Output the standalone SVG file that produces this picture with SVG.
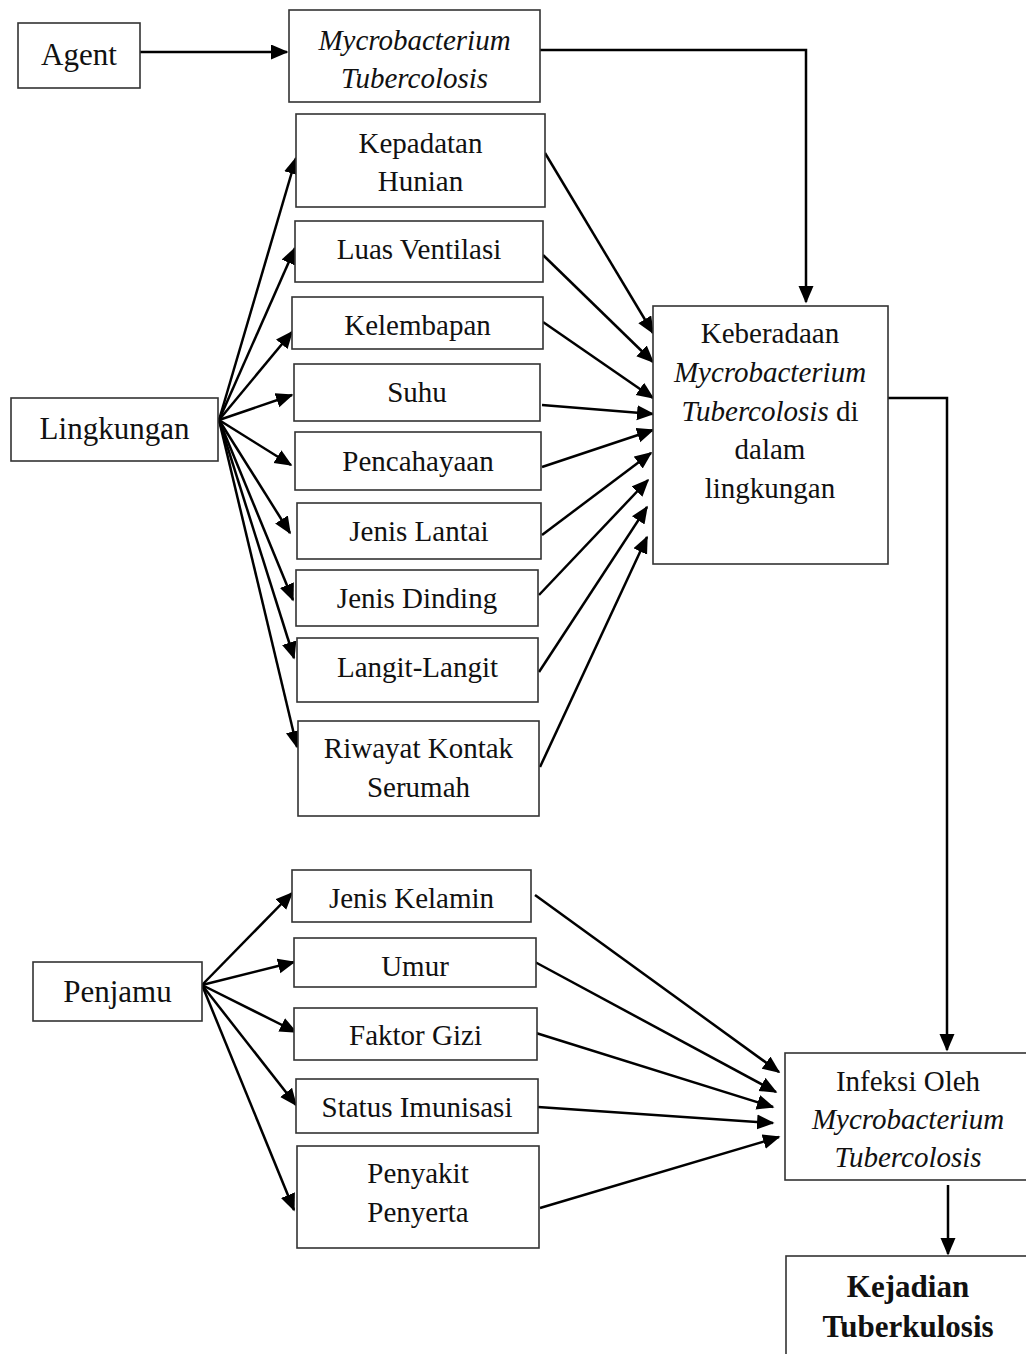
<svg xmlns="http://www.w3.org/2000/svg" width="1026" height="1354" viewBox="0 0 1026 1354">
<style>
.b{fill:#fff;stroke:#333;stroke-width:1.6}
.t{font-family:"Liberation Serif","Times New Roman",serif;font-size:29px;fill:#111;text-anchor:middle}
.L{font-size:31px}
.i{font-style:italic}
.bd{font-weight:bold;font-size:31px}
.c{fill:none;stroke:#000;stroke-width:2.5}
</style>
<defs>
<marker id="ah" markerUnits="userSpaceOnUse" markerWidth="20" markerHeight="16" refX="16" refY="7.5" orient="auto">
<path d="M0,0 L17.5,7.5 L0,15 z" fill="#000"/>
</marker>
</defs>
<rect width="1026" height="1354" fill="#fff"/>
<g id="connectors">
<path class="c" d="M140,52 H287" marker-end="url(#ah)"/>
<path class="c" d="M540,50 H806 V302" marker-end="url(#ah)"/>
<path class="c" d="M888,398 H947 V1050" marker-end="url(#ah)"/>
<path class="c" d="M948,1185 V1254" marker-end="url(#ah)"/>
<path class="c" d="M219,420 L296,158" marker-end="url(#ah)"/>
<path class="c" d="M219,420 L295,248" marker-end="url(#ah)"/>
<path class="c" d="M219,420 L292,332" marker-end="url(#ah)"/>
<path class="c" d="M219,420 L292,395" marker-end="url(#ah)"/>
<path class="c" d="M219,420 L291,465" marker-end="url(#ah)"/>
<path class="c" d="M219,420 L290,533" marker-end="url(#ah)"/>
<path class="c" d="M219,420 L293,600" marker-end="url(#ah)"/>
<path class="c" d="M219,420 L294,658" marker-end="url(#ah)"/>
<path class="c" d="M219,420 L297,747" marker-end="url(#ah)"/>
<path class="c" d="M545,153 L653,333" marker-end="url(#ah)"/>
<path class="c" d="M543,255 L653,362" marker-end="url(#ah)"/>
<path class="c" d="M543,322 L653,398" marker-end="url(#ah)"/>
<path class="c" d="M542,405 L653,414" marker-end="url(#ah)"/>
<path class="c" d="M542,467 L653,430" marker-end="url(#ah)"/>
<path class="c" d="M542,535 L651,453" marker-end="url(#ah)"/>
<path class="c" d="M539,595 L648,480" marker-end="url(#ah)"/>
<path class="c" d="M539,672 L647,507" marker-end="url(#ah)"/>
<path class="c" d="M540,767 L647,537" marker-end="url(#ah)"/>
<path class="c" d="M202,985 L292,893" marker-end="url(#ah)"/>
<path class="c" d="M202,985 L294,962" marker-end="url(#ah)"/>
<path class="c" d="M202,985 L296,1032" marker-end="url(#ah)"/>
<path class="c" d="M202,985 L296,1105" marker-end="url(#ah)"/>
<path class="c" d="M202,985 L294,1210" marker-end="url(#ah)"/>
<path class="c" d="M535,895 L779,1072" marker-end="url(#ah)"/>
<path class="c" d="M535,962 L776,1092" marker-end="url(#ah)"/>
<path class="c" d="M536,1033 L773,1107" marker-end="url(#ah)"/>
<path class="c" d="M538,1107 L773,1123" marker-end="url(#ah)"/>
<path class="c" d="M540,1208 L779,1137" marker-end="url(#ah)"/>
</g>
<g id="agent"><rect class="b" x="18" y="23" width="122" height="65"/><text class="t L" x="79" y="65">Agent</text></g>
<g id="mycro"><rect class="b" x="289" y="10" width="251" height="92"/><text class="t i" x="414.5" y="50">Mycrobacterium</text><text class="t i" x="414.5" y="88">Tubercolosis</text></g>
<g id="lingkungan"><rect class="b" x="11" y="398" width="207" height="63"/><text class="t L" x="114.5" y="439">Lingkungan</text></g>
<g id="kepadatan"><rect class="b" x="296" y="114" width="249" height="93"/><text class="t" x="420.5" y="153">Kepadatan</text><text class="t" x="420.5" y="191">Hunian</text></g>
<g id="ventilasi"><rect class="b" x="295" y="221" width="248" height="61"/><text class="t" x="419" y="259">Luas Ventilasi</text></g>
<g id="kelembapan"><rect class="b" x="292" y="297" width="251" height="52"/><text class="t" x="417.5" y="335">Kelembapan</text></g>
<g id="suhu"><rect class="b" x="294" y="364" width="246" height="57"/><text class="t" x="417" y="402">Suhu</text></g>
<g id="pencahayaan"><rect class="b" x="295" y="432" width="246" height="58"/><text class="t" x="418" y="471">Pencahayaan</text></g>
<g id="lantai"><rect class="b" x="297" y="503" width="244" height="56"/><text class="t" x="419" y="541">Jenis Lantai</text></g>
<g id="dinding"><rect class="b" x="296" y="570" width="242" height="56"/><text class="t" x="417" y="608">Jenis Dinding</text></g>
<g id="langit"><rect class="b" x="297" y="638" width="241" height="64"/><text class="t" x="417.5" y="677">Langit-Langit</text></g>
<g id="riwayat"><rect class="b" x="298" y="721" width="241" height="95"/><text class="t" x="418.5" y="758">Riwayat Kontak</text><text class="t" x="418.5" y="797">Serumah</text></g>
<g id="keberadaan"><rect class="b" x="653" y="306" width="235" height="258"/>
<text class="t" x="770" y="343">Keberadaan</text>
<text class="t i" x="770" y="382">Mycrobacterium</text>
<text class="t" x="770" y="421"><tspan class="i">Tubercolosis</tspan> di</text>
<text class="t" x="770" y="459">dalam</text>
<text class="t" x="770" y="498">lingkungan</text></g>
<g id="penjamu"><rect class="b" x="33" y="962" width="169" height="59"/><text class="t L" x="117.5" y="1002">Penjamu</text></g>
<g id="kelamin"><rect class="b" x="292" y="870" width="239" height="52"/><text class="t" x="411.5" y="908">Jenis Kelamin</text></g>
<g id="umur"><rect class="b" x="294" y="938" width="242" height="49"/><text class="t" x="415" y="976">Umur</text></g>
<g id="gizi"><rect class="b" x="294" y="1008" width="243" height="52"/><text class="t" x="415.5" y="1045">Faktor Gizi</text></g>
<g id="imunisasi"><rect class="b" x="296" y="1079" width="242" height="54"/><text class="t" x="417" y="1117">Status Imunisasi</text></g>
<g id="penyakit"><rect class="b" x="297" y="1146" width="242" height="102"/><text class="t" x="418" y="1183">Penyakit</text><text class="t" x="418" y="1222">Penyerta</text></g>
<g id="infeksi"><rect class="b" x="785" y="1053" width="260" height="127"/>
<text class="t" x="908" y="1091">Infeksi Oleh</text>
<text class="t i" x="908" y="1129">Mycrobacterium</text>
<text class="t i" x="908" y="1167">Tubercolosis</text></g>
<g id="kejadian"><rect class="b" x="786" y="1256" width="260" height="120"/>
<text class="t bd" x="908" y="1297">Kejadian</text>
<text class="t bd" x="908" y="1337">Tuberkulosis</text></g>
</svg>
